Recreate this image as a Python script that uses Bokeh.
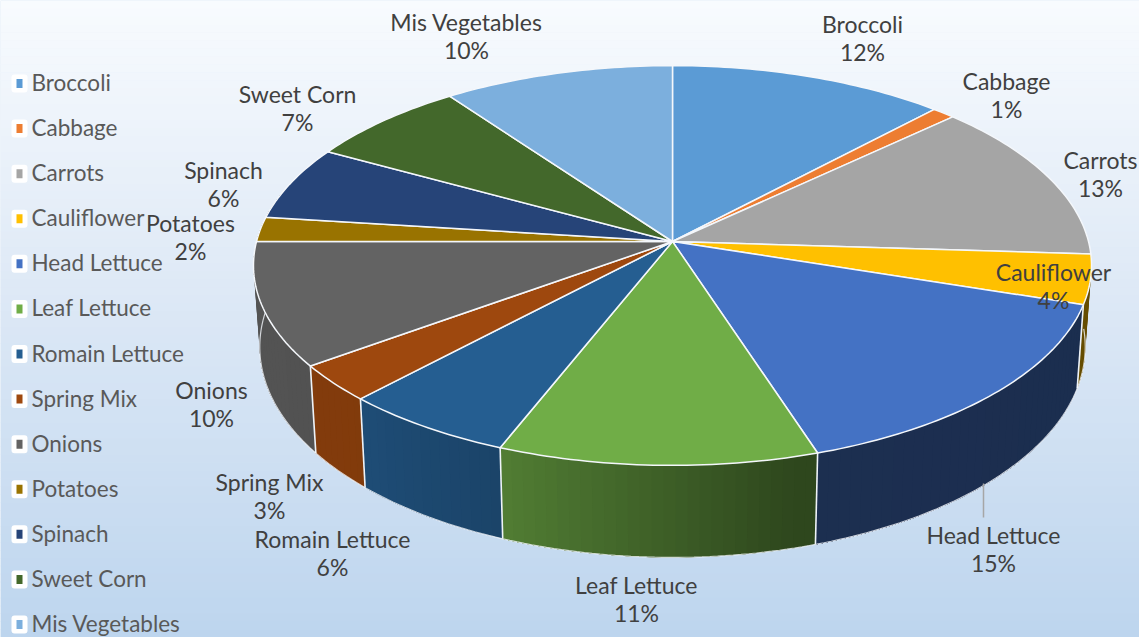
import numpy as np
from bokeh.core.properties import value
from bokeh.embed import file_html
from bokeh.models import Range1d
from bokeh.plotting import figure
from bokeh.resources import INLINE

# Share of each vegetable, in percent
categories = ["Broccoli", "Cabbage", "Carrots", "Cauliflower", "Head Lettuce", "Leaf Lettuce",
              "Romain Lettuce", "Spring Mix", "Onions", "Potatoes", "Spinach", "Sweet Corn",
              "Mis Vegetables"]
shares = [12, 1, 13, 4, 15, 11, 6, 3, 10, 2, 6, 7, 10]
colors = ["#5b9bd5", "#ed7d31", "#a5a5a5", "#ffc000", "#4472c4", "#70ad47", "#255e91",
          "#9e480e", "#636363", "#997300", "#264478", "#43682b", "#7cafdd"]

# Centre of each data label (first line) on the page
label_x = [862, 1006, 1100, 1053, 993, 636, 332, 269, 211, 190, 223, 297, 466]
label_y = [23, 80, 159, 271, 534, 584, 538, 481, 389, 222, 169, 93, 21]
LINE_GAP = 28.5

W, H = 1139, 637
CX, CY, RX, RY, PERSP = 672, 241, 416, 197, 0.12
WALL_START, WALL_END = 90, 270


def rim(deg):
    """Perspective projection of the pie's top rim, clockwise from 12 o'clock."""
    t = np.radians(deg)
    w = 1 + PERSP * np.cos(t)
    return CX + RX * np.sin(t) / w, CY - RY * np.cos(t) / w


def floor(deg):
    """The lower rim: slightly narrower and deeper towards the viewer."""
    x, y = rim(deg)
    return CX + 0.985 * (x - CX), y + 80 - 12 * np.cos(np.radians(deg))


def shade(deg):
    """Brightness of the side wall around the front of the pie."""
    return np.interp(deg, [100, 165, 201, 225, 300], [0.40, 0.41, 0.72, 0.82, 0.88])


def scaled(hex_color, factor):
    rgb = [int(hex_color[i:i + 2], 16) for i in (1, 3, 5)]
    return "#%02x%02x%02x" % tuple(int(round(c * factor)) for c in rgb)


p = figure(width=W, height=H, x_range=Range1d(0, W), y_range=Range1d(H, 0),
           output_backend="svg", toolbar_location=None, min_border=0,
           outline_line_color=None, background_fill_color="#dce8f5")
p.axis.visible = False
p.grid.visible = False

# Page background: pale at the top, blue at the bottom
edges = np.linspace(0, H, 81)
mix = (edges[:-1] + edges[1:]) / 2 / H
stops = np.array([[248, 251, 254], [222, 233, 246], [189, 213, 238]])
bg = np.stack([np.interp(mix, [0, 0.45, 1], stops[:, i]) for i in range(3)], axis=1).round().astype(int)
p.quad(left=0, right=W, top=edges[:-1], bottom=edges[1:] + 0.5,
       fill_color=["#%02x%02x%02x" % tuple(c) for c in bg], line_color=None)

cum = np.concatenate([[0], np.cumsum(shares)]) * 3.6

# Side wall: each slice runs from its own start to the end of its wedge, and later
# slices paint over it, so no hairline gaps open between neighbouring slices.
# The last front wedge carries on behind the top face to close the left silhouette.
side_xs, side_ys, side_cs = [], [], []
for start, stop, col in zip(cum[:-1], cum[1:], colors):
    a0, a1 = max(start, WALL_START), min(stop, WALL_END)
    if a1 <= a0:
        continue
    if a1 == WALL_END:
        a1 += 15
    steps = np.linspace(a0, a1, int(np.ceil((a1 - a0) / 1.5)) + 1)
    for s0, s1 in zip(steps[:-1], steps[1:]):
        arc = np.linspace(s0, a1, max(int(a1 - s0), 1) + 1)
        tx, ty = rim(arc)
        fx, fy = floor(arc[::-1])
        side_xs.append(np.concatenate([tx, fx]))
        side_ys.append(np.concatenate([ty, fy]))
        side_cs.append(scaled(col, shade((s0 + s1) / 2)))
p.patches(side_xs, side_ys, fill_color=side_cs, line_color=None)

# Pale seams down the wall and along its lower edge
seam = [a for a in cum if 100 < a < WALL_END]
seam_top = [rim(a) for a in seam]
seam_low = [floor(a) for a in seam]
p.segment([q[0] for q in seam_top], [q[1] for q in seam_top],
          [q[0] for q in seam_low], [q[1] for q in seam_low],
          line_color="#eef3f8", line_width=1.6)
low_arc = np.linspace(92, WALL_END + 15, 200)
p.line(*floor(low_arc), line_color="#f2f6fb", line_width=1.2, line_alpha=0.8)

# Top face
top_xs, top_ys = [], []
for start, stop in zip(cum[:-1], cum[1:]):
    arc = np.linspace(start, stop, max(int(stop - start), 2) + 1)
    ax, ay = rim(arc)
    top_xs.append(np.concatenate([[CX], ax]))
    top_ys.append(np.concatenate([[CY], ay]))
p.patches(top_xs, top_ys, fill_color=colors, line_color="#f4f7fb", line_width=1.5, line_join="round")

# Leader line of the Head Lettuce label
p.line([983, 983], [483, 517], line_color="#a6a6a6", line_width=1.5)

font = value("Lato")
p.text(x=label_x, y=label_y, text=categories, text_align="center", text_baseline="middle",
       text_font=font, text_font_size="23px", text_color="#404040")
p.text(x=label_x, y=[v + LINE_GAP for v in label_y], text=["%d%%" % s for s in shares],
       text_align="center", text_baseline="middle", text_font=font, text_font_size="23px",
       text_color="#404040")

# Legend column
legend_y = np.linspace(83, 624, len(categories))
p.quad(left=11, right=27, top=legend_y - 9, bottom=legend_y + 9, fill_color="white",
       line_color=None, border_radius=3)
p.quad(left=16, right=22, top=legend_y - 4.5, bottom=legend_y + 4.5, fill_color=colors, line_color=None)
p.text(x=31, y=legend_y - 1, text=categories, text_align="left", text_baseline="middle",
       text_font=font, text_font_size="22.5px", text_color="#595959")

open("out.html", "w").write(file_html(p, INLINE))
